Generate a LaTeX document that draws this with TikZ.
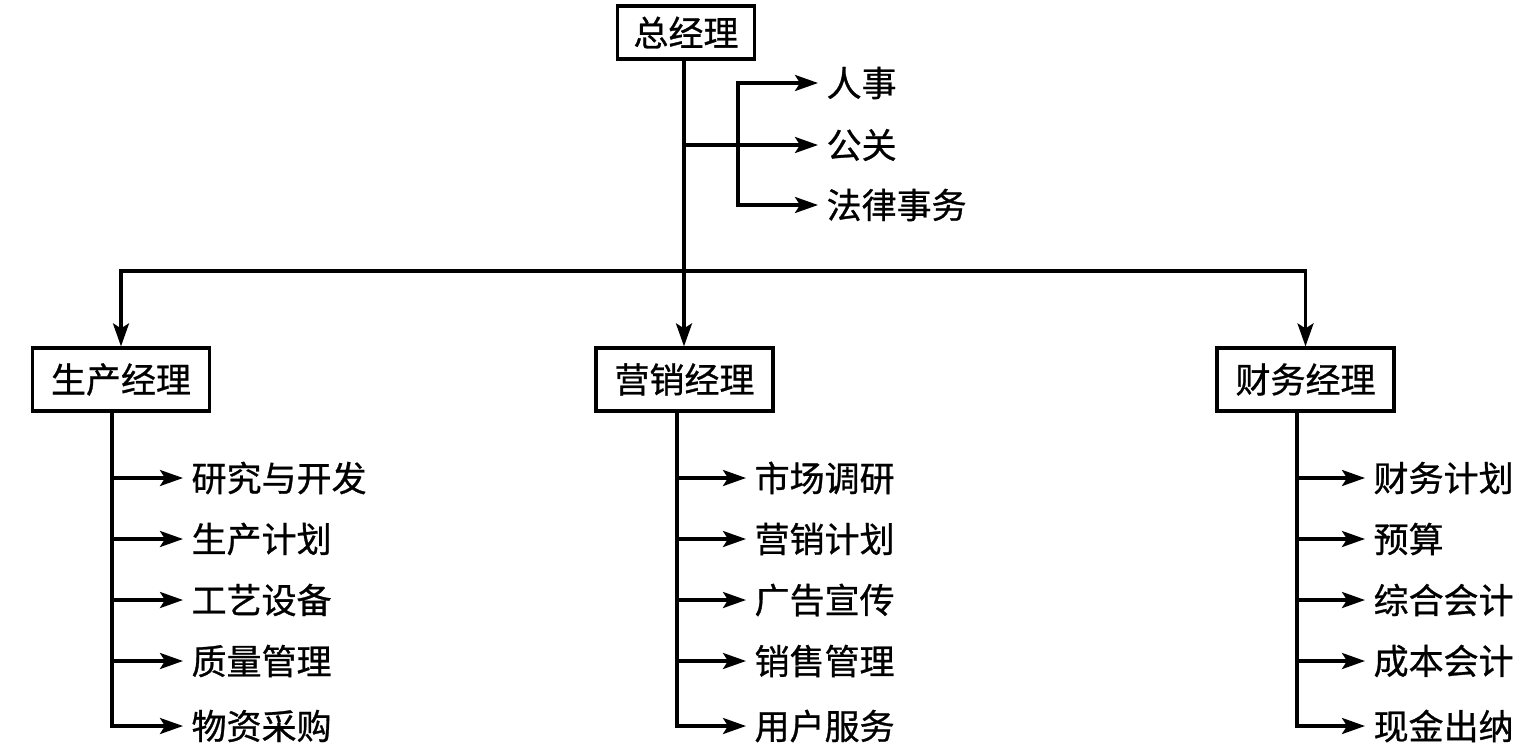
\documentclass[tikz,border=0pt]{standalone}
\usepackage{fontspec}
\setmainfont{Noto Sans CJK SC}[FakeBold=0.8]
\usetikzlibrary{arrows.meta}
\begin{document}
\begin{tikzpicture}[x=0.5pt,y=-0.5pt,line width=1.6pt,
  topbox/.style={draw,line width=1.6pt,minimum width=68.5pt,minimum height=26.5pt,inner sep=0pt,font=\fontsize{17.5pt}{20pt}\selectfont},
  mgrbox/.style={draw,line width=1.6pt,minimum width=88.5pt,minimum height=31.5pt,inner sep=0pt,font=\fontsize{17.5pt}{20pt}\selectfont},
  leaf/.style={anchor=west,inner xsep=3.5pt,inner ysep=0pt,font=\fontsize{17.5pt}{20pt}\selectfont},
  arr/.style={-{Stealth[length=11.5pt,width=8pt,inset=2.5pt]}}]
\useasboundingbox (0,0) rectangle (1535,750);
% boxes
\node[topbox] (gm) at (686,32.5) {总经理};
\node[mgrbox] (prod) at (121,379.5) {生产经理};
\node[mgrbox] (mkt) at (684.5,379.5) {营销经理};
\node[mgrbox] (fin) at (1305.5,379.5) {财务经理};
% upper leaves
\node[leaf] (rs) at (818,83) {人事};
\node[leaf] (gg) at (818,145) {公关};
\node[leaf] (fl) at (818,205) {法律事务};
\coordinate (bv) at (738,0);
\coordinate (hl) at (684,271);
\draw (gm.south -| hl) -- (hl);
\draw[arr] (hl) -- (mkt.north -| hl);
\draw[arr] (hl) -| (prod.north);
\draw[arr] (hl) -| (fin.north);
\draw[arr] (gm.south -| hl) |- (gg.west);
\draw[arr] (bv |- gg.west) |- (rs.west);
\draw[arr] (bv |- gg.west) |- (fl.west);
% production
\node[leaf] (p1) at (183,478) {研究与开发};
\node[leaf] (p2) at (183,539) {生产计划};
\node[leaf] (p3) at (183,600) {工艺设备};
\node[leaf] (p4) at (183,661) {质量管理};
\node[leaf] (p5) at (183,726) {物资采购};
\coordinate (pv) at ([xshift=-4.5pt]prod.south);
\draw[arr] (pv) |- (p5.west);
\foreach \i in {1,2,3,4} \draw[arr] (pv |- p\i.west) -- (p\i.west);
% marketing
\node[leaf] (m1) at (746,478) {市场调研};
\node[leaf] (m2) at (746,539) {营销计划};
\node[leaf] (m3) at (746,600) {广告宣传};
\node[leaf] (m4) at (746,661) {销售管理};
\node[leaf] (m5) at (746,726) {用户服务};
\coordinate (mv) at ([xshift=-3.75pt]mkt.south);
\draw[arr] (mv) |- (m5.west);
\foreach \i in {1,2,3,4} \draw[arr] (mv |- m\i.west) -- (m\i.west);
% finance
\node[leaf] (f1) at (1365,478) {财务计划};
\node[leaf] (f2) at (1365,539) {预算};
\node[leaf] (f3) at (1365,600) {综合会计};
\node[leaf] (f4) at (1365,661) {成本会计};
\node[leaf] (f5) at (1365,726) {现金出纳};
\coordinate (fv) at ([xshift=-4.25pt]fin.south);
\draw[arr] (fv) |- (f5.west);
\foreach \i in {1,2,3,4} \draw[arr] (fv |- f\i.west) -- (f\i.west);
\end{tikzpicture}
\end{document}
